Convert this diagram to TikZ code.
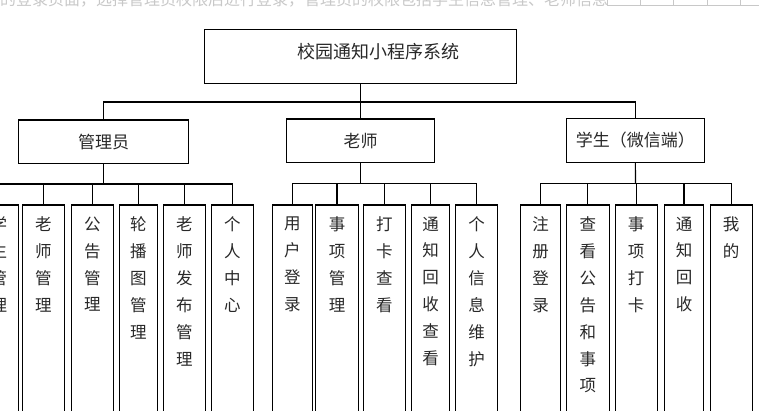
\documentclass[tikz,border=0pt]{standalone}
\usepackage{fontspec}
\setmainfont{Noto Sans CJK SC}
\usepackage{tikz}
\usetikzlibrary{positioning}
\definecolor{TreeLine}{RGB}{0,0,0}
\definecolor{TreeText}{RGB}{40,40,40}
\definecolor{PageGray}{RGB}{200,200,200}

\begin{document}
\begin{tikzpicture}[x=1pt, y=-1pt,
    box/.style={rectangle, draw=TreeLine, line width=1.1pt, inner sep=0pt,
                font=\fontsize{17}{20}\selectfont, text=TreeText},
    leaf/.style={rectangle, draw=TreeLine, line width=1.1pt, inner sep=0pt,
                 anchor=north, minimum height=240},
    ltxt/.style={anchor=north, inner sep=0pt, align=center, text=TreeText,
                 font=\fontsize{16.5}{26.9}\selectfont},
    conn/.style={draw=TreeLine, line width=1.1pt}
  ]
  \useasboundingbox (0,0) rectangle (759,411);
  \clip (0,0) rectangle (759,411);

  % Page text above the chart
  \node[anchor=base west, inner sep=0pt, text=PageGray,
        font=\fontsize{16}{18}\selectfont] (pagetxt) at (0,6)
        {的登录页面，选择管理员权限后进行登录，管理员的权限包括学生信息管理、老师信息};
  \draw[PageGray, line width=0.8pt] (607,5) -- (759,5);
  \foreach \tx in {607,640,673,707,740}
    \draw[PageGray, line width=0.8pt] (\tx,0) -- (\tx,5);

  % Top
  \node[box, minimum width=312.4, minimum height=54] (sys) at (360.5,56.3) {};
  \node[text=TreeText, inner sep=0pt, font=\fontsize{18}{20}\selectfont]
        (systxt) at (378.3,51.7) {校园通知小程序系统};

  % Second level
  \node[box, minimum width=170.4, minimum height=43.3] (admin) at (103.5,141.7) {管理员};
  \node[box, minimum width=147.6, minimum height=43.3] (teacher) at (360.5,140.7) {老师};
  \node[box, minimum width=138, minimum height=44] (student) at (635.3,140.3) {学生（微信端）};

  \coordinate (tbus) at (360.5,102);
  \draw[conn] (sys) -- (tbus);
  \draw[conn] (tbus) -| (admin.north);
  \draw[conn] (tbus) -- (teacher);
  \draw[conn] (tbus) -| (student.north);

  % Leaves
  \coordinate (abus) at (103.5,184);
  \coordinate (tebus) at (360.5,183.5);
  \coordinate (sbus) at (635.5,183.5);
  \draw[conn] (admin) -- (abus);
  \draw[conn] (teacher) -- (tebus);
  \draw[conn] (student) -- (sbus);

  \foreach \n/\b/\x/\w/\t in {
      a1/abus/-1/39/{学\\生\\管\\理},
      a2/abus/43.3/42/{老\\师\\管\\理},
      a3/abus/92.3/41.7/{公\\告\\管\\理},
      a4/abus/138.3/38/{轮\\播\\图\\管\\理},
      a5/abus/184.3/41.7/{老\\师\\发\\布\\管\\理},
      a6/abus/232.3/42/{个\\人\\中\\心},
      t1/tebus/292.3/40/{用\\户\\登\\录},
      t2/tebus/337/43.7/{事\\项\\管\\理},
      t3/tebus/384.3/42/{打\\卡\\查\\看},
      t4/tebus/430.5/37.6/{通\\知\\回\\收\\查\\看},
      t5/tebus/476.5/42/{个\\人\\信\\息\\维\\护},
      s1/sbus/540.5/40.7/{注\\册\\登\\录},
      s2/sbus/587.8/43/{查\\看\\公\\告\\和\\事\\项},
      s3/sbus/636.2/42.3/{事\\项\\打\\卡},
      s4/sbus/684/39.4/{通\\知\\回\\收},
      s5/sbus/731.2/42.3/{我\\的}} {
    \node[leaf, minimum width=\w] (\n) at (\x,204.5) {};
    \node[ltxt] (\n-t) at ([yshift=-12]\n.north) {\t};
    \draw[conn] (\b) -| (\n.north);
  }
\end{tikzpicture}
\end{document}
